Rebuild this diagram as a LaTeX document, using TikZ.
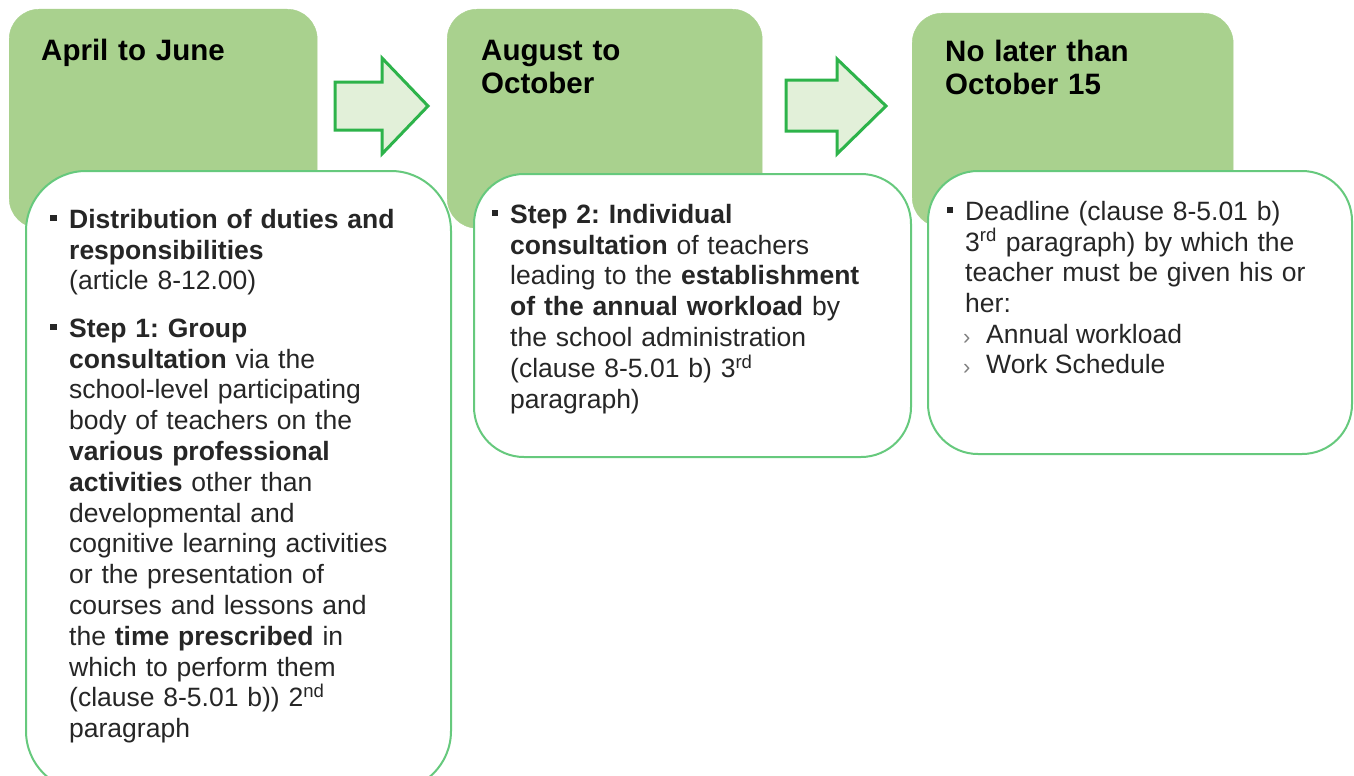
\documentclass[tikz,border=0pt]{standalone}
\usepackage{fontspec}
\newfontfamily\arialf{Liberation Sans}
\definecolor{gfill}{HTML}{A9D18E}
\definecolor{wline}{HTML}{66C97D}
\definecolor{aline}{HTML}{2DB34A}
\definecolor{afill}{HTML}{E2F0D9}
\definecolor{txt}{HTML}{262626}
\definecolor{chev}{HTML}{7F7F7F}
\newcommand\fstrut[1]{\rule{0pt}{#1}}
\newcommand\bodyfont{\arialf\fontsize{26.5}{30.8}\selectfont}
\newcommand\titlefont{\arialf\bfseries\fontsize{29.5}{33.5}\selectfont}
\lineskiplimit=-100pt
\frenchspacing
\tikzset{
  greenbox/.style={draw=gfill, fill=gfill, rounded corners=30pt, anchor=north west, inner sep=0pt},
  whitebox/.style={draw=wline, fill=white, line width=2pt, anchor=north west, inner sep=0pt},
  blockarrow/.style={draw=aline, fill=afill, line width=3pt, line join=miter},
  title/.style={anchor=north west, inner sep=0pt, text width=280pt, align=left,
     font=\titlefont, text=black},
  body/.style={anchor=north west, inner sep=0pt, text width=#1, align=left,
     font=\bodyfont, text=txt},
  subitem/.style={anchor=base west, inner sep=0pt, font=\bodyfont, text=txt},
  chevron/.style={anchor=base west, inner sep=0pt, font=\arialf\fontsize{22}{24}\selectfont, text=chev},
}
\begin{document}
\begin{tikzpicture}[x=1pt,y=-1pt]
\clip (0,0) rectangle (1354,776);
\fill[white] (0,0) rectangle (1354,776);

% column 1
\node[greenbox, minimum width=308pt, minimum height=219pt] (g1) at (9,9) {};
\node[whitebox, rounded corners=60pt, minimum width=425pt, minimum height=620pt] (w1) at (25,170) {};
\node[title] (t1) at (41,60-28) {\fstrut{28pt}April to June};
\fill[txt] (50,228-13.3) rectangle (56.5,228-6.7);
\node[body=370pt] (b1a) at (69,228-25) {\fstrut{25pt}\textbf{Distribution of duties and}\\\textbf{responsibilities}\\(article 8-12.00)};
\fill[txt] (50,337-13.3) rectangle (56.5,337-6.7);
\node[body=370pt] (b1b) at (69,337-25) {\fstrut{25pt}\textbf{Step 1: Group}\\\textbf{consultation} via the\\school-level participating\\body of teachers on the\\\textbf{various professional}\\\textbf{activities} other than\\developmental and\\cognitive learning activities\\or the presentation of\\courses and lessons and\\the \textbf{time prescribed} in\\which to perform them\\(clause 8-5.01 b)) 2\textsuperscript{nd}\\paragraph};

% arrow 1
\draw[blockarrow] (335,82) -- (382,82) -- (382,58) -- (428,106) -- (382,154) -- (382,130) -- (335,130) -- cycle;

% column 2
\node[greenbox, minimum width=315pt, minimum height=219pt] (g2) at (447,9) {};
\node[whitebox, rounded corners=50pt, minimum width=437pt, minimum height=283pt] (w2) at (473,173) {};
\node[title] (t2) at (481,60-28) {\fstrut{28pt}August to\\October};
\fill[txt] (491.5,223-13.3) rectangle (498,223-6.7);
\node[body=385pt] (b2) at (510,223-25) {\fstrut{25pt}\textbf{Step 2: Individual}\\\textbf{consultation} of teachers\\leading to the \textbf{establishment}\\\textbf{of the annual workload} by\\the school administration\\(clause 8-5.01 b) 3\textsuperscript{rd}\\paragraph)};

% arrow 2
\draw[blockarrow] (786,80) -- (837,80) -- (837,59) -- (886,106) -- (837,154) -- (837,131) -- (786,131) -- cycle;

% column 3
\node[greenbox, minimum width=321pt, minimum height=214pt] (g3) at (912,13) {};
\node[whitebox, rounded corners=50pt, minimum width=424pt, minimum height=283pt] (w3) at (927,170) {};
\node[title] (t3) at (945,61-28) {\fstrut{28pt}No later than\\October 15};
\fill[txt] (946.5,220-13.3) rectangle (953,220-6.7);
\node[body=380pt] (b3) at (965,220-25) {\fstrut{25pt}Deadline (clause 8-5.01 b)\\3\textsuperscript{rd} paragraph) by which the\\teacher must be given his or\\her:};
\node[chevron] (c1) at (963,344) {›};
\node[subitem] (s1) at (986,343) {Annual workload};
\node[chevron] (c2) at (963,374) {›};
\node[subitem] (s2) at (986,373) {Work Schedule};
\end{tikzpicture}
\end{document}
